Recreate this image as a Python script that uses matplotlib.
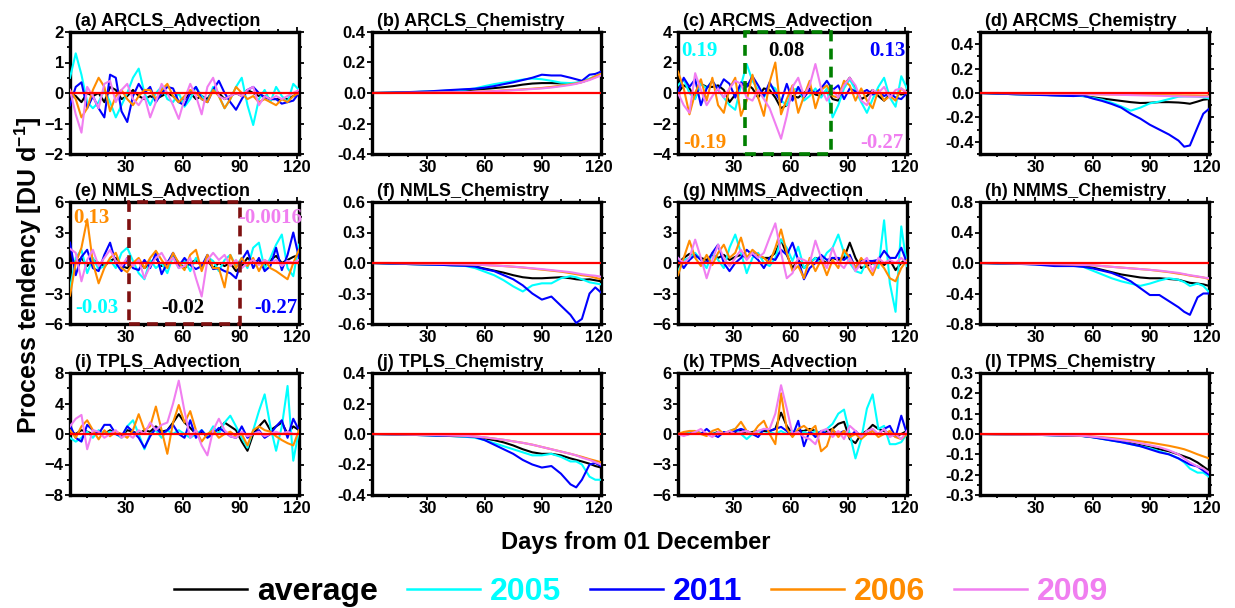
import matplotlib

matplotlib.use("Agg")
import matplotlib.pyplot as plt
import numpy as np
from matplotlib.patches import Rectangle
from matplotlib.ticker import FormatStrFormatter, MultipleLocator

plt.rcParams["font.family"] = ["Liberation Sans", "DejaVu Sans"]
plt.rcParams["font.weight"] = "bold"
plt.rcParams["mathtext.fontset"] = "custom"
plt.rcParams["mathtext.rm"] = "Liberation Sans:bold"
plt.rcParams["mathtext.bf"] = "Liberation Sans:bold"

# day grids
ADV_DAYS = list(range(1, 122, 3))
CHEM_DAYS = [1, 10, 20, 30, 40, 50, 55, 60, 65, 70, 75, 80, 85, 90, 95, 100, 105, 108, 111, 115, 118, 121]

SERIES = ["average", "2005", "2011", "2006", "2009"]
COLORS = {"average": "black", "2005": "#00FFFF", "2011": "#0000FF",
          "2006": "#FF8C00", "2009": "#F07EF0"}

# (a) ARCLS_Advection
a_avg = [0.0, -0.1, -0.3, 0.0, -0.1, 0.0, -0.3, 0.2, 0.1, -0.2, -0.1, 0.1, -0.1, -0.2, -0.1, -0.2, -0.1, 0.0, -0.1, -0.3, -0.2,
         0.0, -0.2, -0.1, -0.2, 0.1, 0.0, -0.2, -0.1, 0.0, -0.1, 0.1, 0.0, -0.1, -0.1, -0.2, -0.2, -0.2, -0.2, -0.1, 0.0]
a_2005 = [0.5, 1.3, 0.6, -0.3, -0.5, -0.3, 0.1, -0.3, -0.8, -0.4, 0.0, 0.5, 0.8, 0.0, -0.4, 0.0, 0.2, -0.2, -0.3, 0.0, -0.45,
          -0.2, 0.2, -0.1, -0.3, 0.2, -0.1, -0.5, -0.2, 0.2, 0.5, -0.4, -1.05, -0.2, 0.1, -0.3, 0.2, -0.1, -0.3, 0.3, 0.1]
a_2011 = [-0.4, 0.2, 0.35, -0.5, -0.1, -0.5, -0.8, 0.6, 0.5, -0.6, -0.95, -0.1, 0.3, 0.0, 0.2, -0.3, 0.0, 0.2, 0.15, -0.3, -0.4,
          0.0, 0.2, -0.2, -0.3, 0.1, 0.4, 0.0, -0.3, -0.55, -0.2, 0.1, 0.2, 0.0, -0.15, -0.2, -0.2, -0.35, -0.3, -0.25, 0.0]
a_2006 = [0.1, -0.2, -0.8, -0.5, 0.1, 0.5, 0.2, -0.6, -0.1, 0.1, -0.2, -0.4, -0.1, 0.1, 0.1, -0.2, 0.1, 0.3, -0.1, -0.3, -0.1,
          0.1, 0.0, -0.2, -0.3, 0.1, -0.1, -0.5, -0.2, 0.2, 0.0, -0.2, -0.1, -0.3, -0.2, -0.3, -0.4, -0.2, -0.3, -0.1, 0.0]
a_2009 = [0.1, -0.7, -1.3, 0.2, -0.1, -0.5, 0.3, 0.4, -0.3, 0.1, 0.3, -0.2, -0.4, -0.1, -0.8, -0.3, 0.3, 0.0, -0.4, -0.85, -0.2,
          0.3, -0.1, -0.7, 0.2, 0.5, -0.1, -0.2, -0.1, 0.0, -0.1, 0.1, 0.2, -0.4, -0.1, -0.2, -0.1, -0.2, -0.1, 0.0, 0.1]

# (c) ARCMS_Advection
c_avg = [0.0, 0.5, 0.3, -0.3, 0.6, 0.4, 0.4, 0.5, 0.2, -0.6, -0.1, 0.5, 0.6, 0.3, -0.3, 0.3, 0.2, -0.3, -1.0, -0.8, -0.2,
         -0.3, 0.0, 0.3, -0.1, -0.2, 0.2, -0.4, -0.5, 0.5, 1.0, 0.3, -0.4, -0.2, 0.2, -0.2, -0.5, -0.1, 0.0, -0.1, 0.0]
c_2005 = [0.5, 0.9, 0.0, -0.4, 0.6, 0.3, 0.8, 0.2, -0.3, -0.8, -1.1, 0.5, 1.9, 0.8, 0.2, -0.3, 0.5, 0.3, -0.5, -0.8, 0.2,
          0.3, -0.5, -0.2, 0.3, -0.3, 0.3, -1.6, -0.8, 0.3, 0.9, 0.2, -0.6, -1.3, -0.4, 0.4, 1.0, -0.3, -0.9, 1.1, 0.3]
c_2011 = [0.0, 1.0, 0.4, 0.9, -0.8, 0.3, 0.8, 0.2, 0.9, 0.6, -0.3, 0.7, 0.4, 1.1, 0.5, -0.2, 0.7, 0.0, -0.6, 0.6, -0.5,
          0.4, -0.3, 0.2, 0.0, 0.3, 0.8, 0.2, 0.5, -0.4, 0.3, 0.1, 0.0, 0.2, -0.1, 0.1, -0.2, 0.0, -0.3, -0.4, 0.0]
c_2006 = [1.4, 0.3, -1.4, 0.0, 0.9, -0.5, 1.0, -0.8, -1.3, 0.3, 1.0, -1.5, -0.5, 1.2, -0.3, -1.5, 0.7, 2.0, -1.4, -0.4, 0.5,
          -1.3, -0.2, 0.8, -1.0, 0.2, 0.5, -0.2, -0.3, 0.8, 0.5, -0.5, 0.3, -0.5, -1.0, 0.2, -0.5, -0.2, -0.5, 0.3, 0.0]
c_2009 = [0.0, -0.8, -1.3, 1.3, 0.2, -0.8, -0.2, 0.3, -0.3, 0.3, 0.8, 0.6, -0.3, -0.5, 0.2, -0.4, -1.0, -2.0, -3.0, -1.5, 0.4,
          1.0, -0.2, 0.5, 1.9, 0.3, -0.5, 0.2, -0.3, 0.5, 1.0, 0.5, -0.5, -0.8, 0.2, 0.0, 0.4, -0.3, 0.2, 0.3, 0.0]

# (e) NMLS_Advection
e_avg = [0.5, 0.0, 0.5, -0.3, 0.3, 0.0, -0.3, 0.2, 0.5, -0.3, -0.5, 0.0, 0.3, -0.5, 0.0, 0.5, -0.3, 0.0, 0.8, 0.0, -0.5,
         0.0, 0.3, -0.3, 0.3, -0.5, 0.0, -0.3, 0.0, -0.8, -0.3, 0.5, 0.0, 0.3, -0.3, 0.3, 0.7, 0.0, 0.3, 0.6, 0.8]
e_2005 = [-2.5, 0.5, 1.3, -1.0, 0.5, -0.6, -0.3, 0.3, -0.5, 1.0, 1.5, 0.2, -1.0, -1.6, 0.3, -0.5, 0.0, -1.0, 0.7, -0.5, 0.3,
          -0.8, 0.5, -0.3, 0.6, 0.2, -0.8, 0.3, 0.8, -0.3, 0.5, -0.5, 1.5, 2.0, -0.6, 0.5, 1.8, 2.8, -0.5, -1.3, 1.8]
e_2011 = [2.0, -1.2, 0.6, 1.3, -0.5, -0.8, 0.8, 2.0, 0.0, -0.8, 0.5, -0.5, -0.7, 0.3, -0.5, 1.0, -1.1, 0.0, 1.0, -0.3, 0.5,
          -0.2, -0.6, -0.3, 0.8, -0.6, -0.5, -0.8, -1.0, -1.5, 0.3, 1.2, -0.5, 0.5, -0.8, -0.3, 1.5, -0.7, 0.8, 3.0, 0.5]
e_2006 = [-3.2, 0.0, 1.5, 4.3, 0.0, -2.0, -0.5, 0.5, 1.0, -0.5, -0.9, 0.0, 0.5, -0.5, 0.5, 1.2, 0.3, -0.5, 1.0, 0.0, -0.7,
          0.8, 1.3, -0.8, 0.8, -0.5, -0.5, -2.4, 0.8, -0.5, 0.5, -0.3, 0.5, -0.8, 0.3, -0.5, -0.8, -1.2, -1.6, 0.0, 1.3]
e_2009 = [1.4, 1.0, -1.8, 0.3, 1.3, -0.3, 0.5, 1.3, 0.2, -0.3, 0.5, -0.3, 0.3, -1.5, -0.3, 0.5, 1.0, 0.0, 0.5, -0.5, -0.3,
          0.5, -1.5, -3.3, 0.3, 1.0, 0.3, 0.8, -0.3, 0.3, -0.5, 0.0, 0.3, -0.2, 0.3, 0.0, 0.3, -0.3, 0.2, 0.0, 0.3]

# (g) NMMS_Advection
g_avg = [0.0, 0.5, 0.9, 0.7, 0.5, 0.3, 0.8, 0.5, 0.8, 0.3, 0.6, 0.8, 0.5, 1.0, 0.7, 0.5, 0.5, 1.0, 2.3, 0.8, -0.5,
         0.3, -0.5, 0.0, 0.5, 0.3, 0.0, 0.5, 0.3, 0.5, 2.0, 0.5, -0.5, -0.3, 0.0, 0.3, -0.2, 0.3, -0.7, 0.0, 0.5]
g_2005 = [-0.8, 0.3, 0.5, 1.0, 0.3, -0.5, 1.0, 0.3, -0.5, 1.5, 2.8, 1.0, -1.0, 0.5, 1.0, 0.0, -0.3, 0.5, 2.3, 1.5, 0.2,
          1.6, -0.5, 0.0, 0.5, 0.0, 1.0, 1.5, 2.8, 1.0, 0.0, -0.8, -1.0, 0.2, 0.0, -0.5, 4.2, -2.0, -4.8, 3.6, -0.3]
g_2011 = [0.5, -0.5, 0.3, 0.8, 0.3, 0.0, 1.0, 1.8, 0.0, -0.8, 0.0, 0.5, 1.3, 0.8, 0.3, -0.5, 0.5, 0.3, 1.3, 0.8, 2.0,
          0.3, -1.6, -0.5, 0.0, 0.8, 0.3, 0.5, 0.5, 0.3, 0.8, -0.5, 0.3, 0.2, 0.2, 0.3, 1.2, 0.5, 0.5, 1.5, 0.0]
g_2006 = [-1.2, 0.5, 2.2, 0.5, -0.3, 0.8, -0.2, 1.0, 1.8, 0.5, 1.0, 2.5, 0.5, 1.3, 0.8, 0.5, 0.0, 1.5, 3.3, 1.0, -0.8,
          -0.3, -1.5, 0.5, -0.8, 0.3, -1.2, 0.3, -0.5, 1.3, 0.5, -0.5, 0.5, -0.3, -1.2, 0.2, -0.5, -1.5, -1.8, -0.5, 0.3]
g_2009 = [0.5, 0.0, 0.5, 2.3, 0.5, -1.5, 0.3, 1.8, 0.5, -0.3, 0.5, 1.3, 0.3, 1.0, 0.5, 1.0, 2.5, 3.9, 1.0, -1.5, -1.0,
          0.5, 0.3, 0.0, 2.2, 0.5, -0.5, 1.5, 0.0, -0.5, 0.5, -0.8, 0.0, 0.5, -0.8, 0.5, 0.0, 0.3, 0.0, 0.5, 0.0]

# (i) TPLS_Advection
i_avg = [0.3, 0.0, 0.5, 0.3, 0.0, 0.3, 0.0, 0.5, 0.0, -0.3, 0.5, 0.3, 0.0, 0.5, 0.3, 1.0, 0.3, 0.5, 1.5, 2.6, 1.5,
         0.8, 0.0, 0.3, -0.3, 0.3, 0.5, 1.5, 1.0, 0.5, -1.0, -2.2, 0.0, 1.0, 1.8, 0.5, 1.0, 1.5, 0.0, 1.0, 0.5]
i_2005 = [-0.5, -1.0, -0.5, 0.3, -0.5, 0.5, 0.0, 0.3, 0.0, -0.5, 1.0, 1.8, 0.0, -2.0, 0.0, 0.5, -0.5, 0.5, 0.0, 0.5, 0.0,
          -0.5, 0.0, 0.5, -0.3, 1.0, 0.0, 1.5, 2.4, 1.0, -0.5, -1.8, 0.5, 3.0, 5.2, 1.0, -2.2, 1.0, 6.3, -3.5, 0.5]
i_2011 = [1.2, -0.5, -1.0, 1.2, 0.5, 0.0, 1.2, 1.2, 0.0, -0.3, 1.0, 0.3, -0.5, -1.8, -0.3, 0.8, 0.0, 0.5, 1.2, 0.0, -0.5,
          1.8, -0.5, 0.5, -0.5, 0.0, 0.8, 0.3, -0.3, -0.5, 1.0, -0.5, 0.0, 0.5, -0.5, 0.0, 1.0, 1.8, -0.5, 2.0, 0.5]
i_2006 = [0.5, -0.5, 1.0, 1.8, 0.5, -0.7, 0.5, -0.3, 0.3, 0.0, -0.5, 0.5, 2.6, 0.5, 1.0, 3.6, 0.5, -2.6, 1.5, 3.8, 1.5,
          3.0, 0.5, -1.0, 0.0, 0.5, -0.5, 0.0, 0.3, -0.3, 0.0, -1.5, 0.5, 1.0, 0.5, 0.3, -0.3, -0.8, -1.2, -1.5, 0.5]
i_2009 = [1.0, 2.0, 2.5, -2.0, 0.5, 0.3, -0.5, 0.0, 0.5, -0.5, 0.0, -0.5, 0.5, 0.0, 1.5, 0.5, 1.2, 1.5, 4.0, 7.0, 3.0,
          -0.5, 0.5, -1.5, -2.8, 0.5, 2.0, 0.5, -0.3, -0.5, 0.3, -0.3, 0.0, 0.3, -0.3, 0.0, 0.3, 0.0, 0.3, 0.0, 0.0]

# (k) TPMS_Advection
k_avg = [0.0, 0.0, 0.1, 0.2, 0.1, 0.0, 0.0, 0.2, 0.0, 0.1, 0.2, 0.3, 0.0, 0.2, 0.3, 0.3, 0.3, 0.5, 2.1, 0.8, 0.0,
         0.3, 0.3, 0.5, 0.3, 0.0, 0.3, 0.5, 1.0, 1.2, -0.5, -0.9, 0.0, 0.3, 0.9, 0.5, 0.3, 0.0, -0.2, 0.0, 0.3]
k_2005 = [0.0, 0.0, 0.1, 0.0, 0.1, 0.0, 0.0, 0.1, 0.0, 0.3, 0.5, 0.0, -0.5, 0.0, 0.3, 0.0, 0.2, 0.0, 0.3, 0.0, 0.3,
          0.0, 0.2, 0.0, 0.3, 0.0, 0.5, 1.0, 2.0, 2.4, 0.0, -2.4, -0.5, 2.5, 3.9, 0.5, 0.8, -1.0, -1.0, -0.8, 0.0]
k_2011 = [0.0, -0.1, 0.0, 0.2, 0.0, 0.5, 0.0, -0.3, 0.2, 0.0, 0.3, 0.5, 0.3, 0.0, -0.3, 0.5, 0.3, 0.5, 0.7, 0.3, -0.2,
          1.3, -1.2, 0.3, -0.3, 0.3, 0.0, 0.3, 0.0, 0.3, -0.3, 0.3, -0.3, 0.0, 0.3, 0.0, 0.5, 0.8, -0.3, 1.8, 0.0]
k_2006 = [0.0, 0.2, 0.3, 0.3, 0.0, -0.2, 0.3, 0.5, 0.0, 0.3, 0.5, 1.2, 0.3, 0.0, 0.8, 1.3, 0.0, -1.0, 4.0, 0.5, -0.3,
          0.5, 0.8, 0.3, 0.8, -1.7, -1.2, 0.5, -0.3, 0.3, -0.3, 0.0, -0.5, 0.0, 0.3, -0.3, 0.0, 0.3, -0.3, -0.5, 0.0]
k_2009 = [0.0, -0.2, 0.0, 0.2, 0.5, 0.0, -0.3, 0.2, 0.0, 0.3, 0.0, 0.2, 0.3, 0.0, 0.3, 0.5, 0.5, 2.0, 4.8, 2.5, 0.0,
          0.2, -0.3, -0.5, -1.0, 0.3, 0.5, -0.3, 0.3, -0.5, 0.8, 0.3, -0.3, 0.3, 0.5, 0.0, 0.5, -0.3, 0.0, -0.5, 0.3]

# (b) ARCLS_Chemistry
b_avg = [0, 0.002, 0.005, 0.008, 0.012, 0.018, 0.022, 0.027, 0.032, 0.038, 0.045, 0.055, 0.062, 0.065, 0.065, 0.063,
         0.063, 0.065, 0.072, 0.09, 0.105, 0.12]
b_2005 = [0, 0.002, 0.005, 0.01, 0.015, 0.022, 0.03, 0.045, 0.058, 0.068, 0.078, 0.088, 0.095, 0.09, 0.08, 0.068,
          0.065, 0.068, 0.075, 0.095, 0.11, 0.125]
b_2011 = [0, 0.002, 0.006, 0.01, 0.018, 0.025, 0.028, 0.035, 0.045, 0.058, 0.07, 0.085, 0.1, 0.12, 0.115, 0.115,
          0.1, 0.09, 0.08, 0.12, 0.125, 0.14]
b_2006 = [0, 0, 0.001, 0.002, 0.004, 0.006, 0.008, 0.01, 0.013, 0.017, 0.02, 0.024, 0.028, 0.033, 0.04, 0.048,
          0.057, 0.063, 0.072, 0.09, 0.11, 0.125]
b_2009 = [0, 0, 0.001, 0.002, 0.004, 0.006, 0.008, 0.01, 0.012, 0.015, 0.018, 0.022, 0.026, 0.03, 0.036, 0.044,
          0.053, 0.06, 0.07, 0.085, 0.1, 0.115]

# (d) ARCMS_Chemistry
d_avg = [0, -0.005, -0.01, -0.013, -0.018, -0.022, -0.025, -0.035, -0.045, -0.055, -0.065, -0.075, -0.082, -0.08,
         -0.075, -0.075, -0.078, -0.082, -0.088, -0.07, -0.055, -0.05]
d_2005 = [0, -0.005, -0.01, -0.013, -0.018, -0.022, -0.025, -0.04, -0.055, -0.08, -0.11, -0.145, -0.12, -0.085,
          -0.07, -0.05, -0.03, -0.028, -0.028, -0.03, -0.035, -0.045]
d_2011 = [0, -0.005, -0.01, -0.015, -0.02, -0.025, -0.02, -0.045, -0.065, -0.09, -0.12, -0.17, -0.21, -0.26, -0.3,
          -0.34, -0.39, -0.44, -0.43, -0.28, -0.17, -0.13]
d_2006 = [0, 0, -0.002, -0.004, -0.006, -0.008, -0.009, -0.01, -0.011, -0.012, -0.013, -0.014, -0.015, -0.016,
          -0.017, -0.018, -0.019, -0.02, -0.02, -0.021, -0.022, -0.022]
d_2009 = [0, 0, -0.002, -0.004, -0.006, -0.008, -0.009, -0.01, -0.011, -0.013, -0.015, -0.017, -0.019, -0.021,
          -0.023, -0.025, -0.027, -0.028, -0.029, -0.03, -0.03, -0.03]

# (f) NMLS_Chemistry
f_avg = [0, -0.005, -0.01, -0.015, -0.02, -0.025, -0.035, -0.055, -0.075, -0.095, -0.12, -0.14, -0.15, -0.15,
         -0.145, -0.14, -0.15, -0.16, -0.165, -0.16, -0.17, -0.18]
f_2005 = [0, -0.005, -0.01, -0.015, -0.02, -0.03, -0.05, -0.085, -0.12, -0.17, -0.23, -0.28, -0.22, -0.2, -0.2,
          -0.15, -0.13, -0.14, -0.16, -0.19, -0.2, -0.21]
f_2011 = [0, -0.005, -0.01, -0.015, -0.02, -0.028, -0.035, -0.06, -0.08, -0.12, -0.16, -0.22, -0.3, -0.36, -0.33,
          -0.42, -0.51, -0.59, -0.55, -0.3, -0.24, -0.29]
f_2006 = [0, 0, -0.003, -0.006, -0.01, -0.013, -0.016, -0.02, -0.025, -0.03, -0.037, -0.045, -0.055, -0.065,
          -0.075, -0.085, -0.1, -0.11, -0.12, -0.13, -0.145, -0.16]
f_2009 = [0, 0, -0.003, -0.006, -0.01, -0.013, -0.016, -0.02, -0.025, -0.03, -0.036, -0.043, -0.052, -0.06,
          -0.07, -0.08, -0.09, -0.1, -0.11, -0.12, -0.125, -0.135]

# (h) NMMS_Chemistry
h_avg = [0, -0.005, -0.01, -0.015, -0.025, -0.03, -0.04, -0.06, -0.09, -0.12, -0.15, -0.17, -0.19, -0.2, -0.2,
         -0.21, -0.22, -0.24, -0.26, -0.27, -0.28, -0.3]
h_2005 = [0, -0.005, -0.01, -0.015, -0.025, -0.035, -0.05, -0.1, -0.15, -0.2, -0.24, -0.27, -0.3, -0.27, -0.23,
          -0.2, -0.22, -0.25, -0.3, -0.27, -0.3, -0.38]
h_2011 = [0, -0.005, -0.01, -0.02, -0.04, -0.04, -0.05, -0.07, -0.1, -0.13, -0.18, -0.24, -0.33, -0.42, -0.42,
          -0.5, -0.58, -0.64, -0.68, -0.45, -0.4, -0.4]
h_2006 = [0, 0, -0.005, -0.01, -0.015, -0.02, -0.025, -0.03, -0.04, -0.05, -0.06, -0.07, -0.08, -0.09, -0.105,
          -0.12, -0.14, -0.15, -0.165, -0.18, -0.19, -0.21]
h_2009 = [0, 0, -0.005, -0.01, -0.015, -0.02, -0.025, -0.03, -0.04, -0.05, -0.06, -0.07, -0.08, -0.09, -0.1,
          -0.115, -0.13, -0.145, -0.16, -0.175, -0.19, -0.2]

# (j) TPLS_Chemistry
j_avg = [0, -0.002, -0.005, -0.008, -0.012, -0.016, -0.02, -0.03, -0.04, -0.055, -0.075, -0.1, -0.12, -0.13,
         -0.13, -0.14, -0.16, -0.17, -0.18, -0.195, -0.21, -0.22]
j_2005 = [0, -0.002, -0.005, -0.008, -0.012, -0.018, -0.025, -0.04, -0.06, -0.08, -0.1, -0.12, -0.14, -0.14,
          -0.13, -0.15, -0.18, -0.18, -0.2, -0.28, -0.3, -0.3]
j_2011 = [0, -0.002, -0.005, -0.008, -0.012, -0.015, -0.02, -0.04, -0.07, -0.1, -0.13, -0.17, -0.2, -0.22,
          -0.21, -0.26, -0.33, -0.35, -0.3, -0.2, -0.19, -0.21]
j_2006 = [0, -0.001, -0.003, -0.005, -0.008, -0.012, -0.016, -0.022, -0.03, -0.038, -0.048, -0.058, -0.07,
          -0.085, -0.1, -0.115, -0.13, -0.14, -0.15, -0.165, -0.175, -0.185]
j_2009 = [0, -0.001, -0.003, -0.005, -0.008, -0.012, -0.016, -0.022, -0.03, -0.038, -0.048, -0.058, -0.07,
          -0.085, -0.1, -0.115, -0.13, -0.14, -0.155, -0.17, -0.185, -0.2]

# (l) TPMS_Chemistry
l_avg = [0, -0.001, -0.002, -0.004, -0.006, -0.008, -0.01, -0.015, -0.022, -0.03, -0.038, -0.045, -0.055, -0.065,
         -0.075, -0.085, -0.1, -0.11, -0.12, -0.14, -0.16, -0.18]
l_2005 = [0, -0.001, -0.002, -0.004, -0.006, -0.008, -0.01, -0.016, -0.024, -0.032, -0.04, -0.05, -0.06, -0.07,
          -0.085, -0.1, -0.12, -0.14, -0.17, -0.19, -0.19, -0.21]
l_2011 = [0, -0.001, -0.002, -0.004, -0.006, -0.008, -0.01, -0.016, -0.024, -0.032, -0.04, -0.05, -0.06, -0.075,
          -0.09, -0.1, -0.12, -0.135, -0.15, -0.16, -0.18, -0.2]
l_2006 = [0, -0.001, -0.002, -0.003, -0.005, -0.007, -0.009, -0.012, -0.016, -0.02, -0.025, -0.03, -0.036,
          -0.042, -0.05, -0.058, -0.068, -0.075, -0.085, -0.1, -0.11, -0.12]
l_2009 = [0, -0.001, -0.002, -0.003, -0.005, -0.007, -0.009, -0.013, -0.018, -0.024, -0.03, -0.037, -0.045,
          -0.055, -0.065, -0.08, -0.1, -0.12, -0.14, -0.16, -0.17, -0.19]

# panel title, day grid, series, y limit, y step
PANELS = [
    ("(a) ARCLS_Advection", ADV_DAYS, [a_avg, a_2005, a_2011, a_2006, a_2009], 2, 1),
    ("(b) ARCLS_Chemistry", CHEM_DAYS, [b_avg, b_2005, b_2011, b_2006, b_2009], 0.4, 0.2),
    ("(c) ARCMS_Advection", ADV_DAYS, [c_avg, c_2005, c_2011, c_2006, c_2009], 4, 2),
    ("(d) ARCMS_Chemistry", CHEM_DAYS, [d_avg, d_2005, d_2011, d_2006, d_2009], 0.5, 0.2),
    ("(e) NMLS_Advection", ADV_DAYS, [e_avg, e_2005, e_2011, e_2006, e_2009], 6, 3),
    ("(f) NMLS_Chemistry", CHEM_DAYS, [f_avg, f_2005, f_2011, f_2006, f_2009], 0.6, 0.3),
    ("(g) NMMS_Advection", ADV_DAYS, [g_avg, g_2005, g_2011, g_2006, g_2009], 6, 3),
    ("(h) NMMS_Chemistry", CHEM_DAYS, [h_avg, h_2005, h_2011, h_2006, h_2009], 0.8, 0.4),
    ("(i) TPLS_Advection", ADV_DAYS, [i_avg, i_2005, i_2011, i_2006, i_2009], 8, 4),
    ("(j) TPLS_Chemistry", CHEM_DAYS, [j_avg, j_2005, j_2011, j_2006, j_2009], 0.4, 0.2),
    ("(k) TPMS_Advection", ADV_DAYS, [k_avg, k_2005, k_2011, k_2006, k_2009], 6, 3),
    ("(l) TPMS_Chemistry", CHEM_DAYS, [l_avg, l_2005, l_2011, l_2006, l_2009], 0.3, 0.1),
]

# period means written on panels (c) and (e)
C_NOTES = [("0.19", "2005", 12, 2.75), ("0.08", "average", 58, 2.75), ("0.13", "2011", 111, 2.75),
           ("-0.19", "2006", 15, -3.3), ("-0.27", "2009", 108, -3.3)]
E_NOTES = [("0.13", "2006", 12, 4.4), ("-0.0016", "2009", 106, 4.4), ("-0.03", "2005", 15, -4.4),
           ("-0.02", "average", 60, -4.4), ("-0.27", "2011", 109, -4.4)]
C_BOX = (36, 81)
E_BOX = (32, 90)

W, H = 1235, 608
LEFTS = [70, 372, 678, 980]
TOPS = [32, 202, 373]
AX_W, AX_H = 229, 122

fig = plt.figure(figsize=(W / 100, H / 100), dpi=100)
axes = []
for n, (title, days, series, ylim, ystep) in enumerate(PANELS):
    r, c = divmod(n, 4)
    ax = fig.add_axes([LEFTS[c] / W, 1 - (TOPS[r] + AX_H) / H, AX_W / W, AX_H / H])
    axes.append(ax)
    for k in [0, 1, 3, 4, 2]:
        ax.plot(days, series[k], color=COLORS[SERIES[k]], lw=1.5, zorder=2 + k)
    ax.axhline(0, color="red", lw=1.6, zorder=10)
    ax.set_xlim(1, 121)
    ax.set_ylim(-ylim, ylim)
    ax.xaxis.set_major_locator(plt.FixedLocator([30, 60, 90, 120]))
    ax.xaxis.set_minor_locator(MultipleLocator(10))
    ticks = np.arange(-ylim, ylim + 1e-9, ystep) if ylim != 0.5 else np.arange(-0.4, 0.41, 0.2)
    ax.set_yticks(ticks)
    ax.yaxis.set_minor_locator(MultipleLocator(ystep / 2))
    if ystep < 1:
        ax.yaxis.set_major_formatter(FormatStrFormatter("%.1f"))
    ax.tick_params(which="both", direction="out", top=True, right=True, width=1.3,
                   labelsize=12, pad=1)
    ax.tick_params(which="major", length=3.5)
    ax.tick_params(which="minor", length=2)
    for lab in ax.get_xticklabels() + ax.get_yticklabels():
        lab.set_fontweight("bold")
    for sp in ax.spines.values():
        sp.set_linewidth(2.4)
    ax.text(0.02, 1.02, title, transform=ax.transAxes, fontsize=13, fontweight="bold",
            ha="left", va="bottom")


def add_box(ax, span, color):
    ylo, yhi = ax.get_ylim()
    rect = Rectangle((span[0], ylo), span[1] - span[0], yhi - ylo, fill=False,
                     edgecolor=color, lw=2.6, ls=(0, (3, 2)), zorder=20, clip_on=False)
    ax.add_patch(rect)


def add_notes(ax, notes):
    for txt, key, x, y in notes:
        ax.text(x, y, txt, color=COLORS[key], fontsize=15, fontweight="bold",
                family=["Liberation Serif", "DejaVu Serif"], ha="center", va="center", zorder=25)


add_box(axes[2], C_BOX, "#008000")
add_notes(axes[2], C_NOTES)
add_box(axes[4], E_BOX, "#7F1010")
add_notes(axes[4], E_NOTES)

fig.text(28 / W, 1 - 275 / H, "Process tendency [DU d$^{-1}$]", rotation=90,
         ha="center", va="center", fontsize=18, fontweight="bold")
fig.text(636 / W, 1 - 543 / H, "Days from 01 December", ha="center", va="center",
         fontsize=17, fontweight="bold")

handles = [plt.Line2D([], [], color=COLORS[s], lw=1.8) for s in SERIES]
fig.legend(handles, SERIES, loc="center", bbox_to_anchor=(641 / W, 1 - 592 / H), ncol=5,
           frameon=False, prop={"size": 23, "weight": "bold"}, handlelength=2.3,
           handletextpad=0.3, columnspacing=0.9, labelcolor="linecolor")

fig.savefig("out.png", dpi=100)
